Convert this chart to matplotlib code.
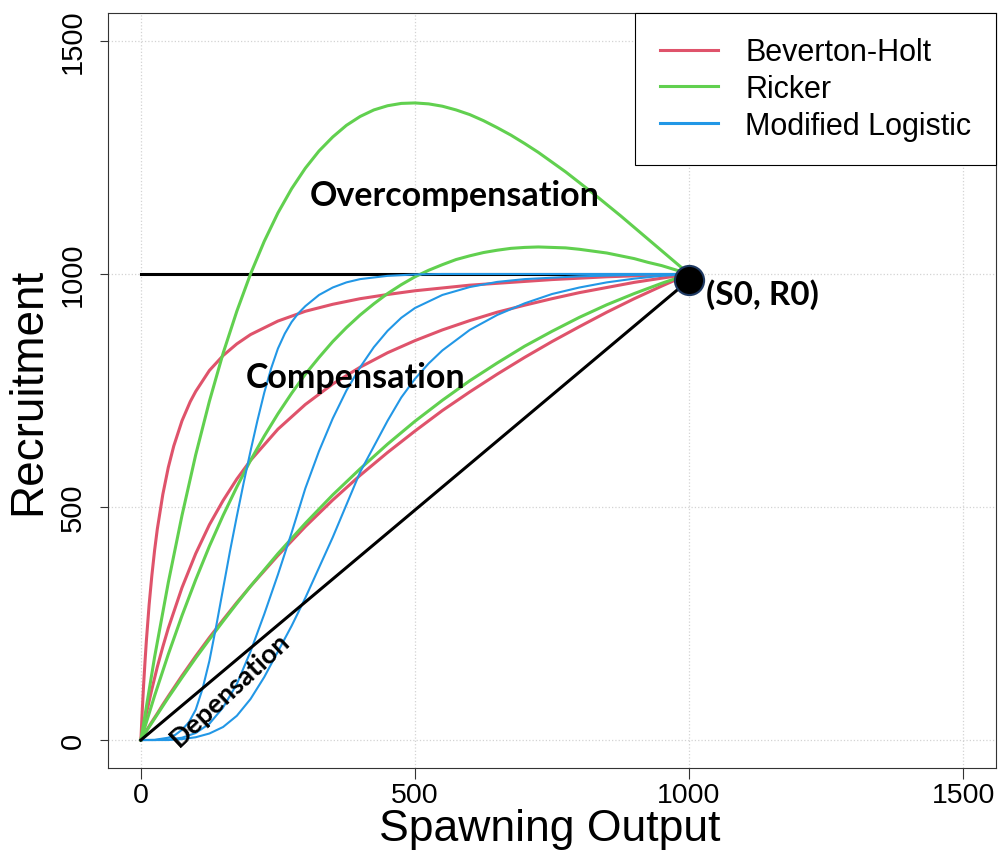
import matplotlib
matplotlib.use("Agg")
import matplotlib.pyplot as plt

plt.rcParams["font.family"] = ["Liberation Sans", "DejaVu Sans"]

# spawning output values the gentler curves were read at
spawning = [0, 5, 10, 20, 30, 40, 50, 75, 100, 125, 150, 175, 200, 250, 300,
            350, 400, 450, 500, 550, 600, 650, 700, 750, 800, 850, 900, 950, 1000]

# Beverton-Holt curves (high, mid, low steepness)
bh_high_s = [0, 2.5, 5, 7.5, 10, 15, 20, 25, 30, 40, 50, 60, 75, 90, 100, 125, 150, 175,
             200, 250, 300, 350, 400, 450, 500, 550, 600, 650, 700, 750, 800, 850, 900, 950, 1000]
bh_high = [0, 63, 119, 168, 213, 290, 353, 407, 453, 527, 585, 631, 685, 726, 748, 793, 825, 850,
           870, 899, 920, 935, 947, 956, 964, 970, 976, 980, 984, 988, 991, 994, 996, 998, 1000]
bh_mid = [0, 29, 57, 109, 157, 200, 240, 327, 400, 462, 514, 560, 600, 667, 720,
          764, 800, 831, 857, 880, 900, 918, 933, 947, 960, 971, 982, 991, 1000]
bh_low = [0, 10, 20, 39, 57, 76, 94, 138, 180, 220, 258, 295, 330, 396, 458,
          515, 568, 617, 663, 707, 747, 785, 821, 855, 887, 918, 947, 974, 1000]

# Ricker curves (high and mid read every 25 units)
ricker_s = list(range(0, 1001, 25))
ricker_high = [0, 178, 338, 482, 612, 727, 830, 920, 1000, 1070, 1131, 1183, 1227, 1264,
               1294, 1319, 1338, 1352, 1361, 1366, 1367, 1365, 1360, 1352, 1342, 1329, 1314,
               1298, 1280, 1261, 1240, 1219, 1196, 1173, 1149, 1125, 1100, 1075, 1050, 1025, 1000]
ricker_mid = [0, 95, 184, 267, 344, 416, 482, 543, 600, 652, 700, 744, 785, 821,
              855, 885, 912, 936, 958, 977, 994, 1008, 1020, 1031, 1039, 1046, 1051,
              1055, 1057, 1058, 1057, 1056, 1053, 1049, 1045, 1039, 1033, 1025, 1018, 1009, 1000]
ricker_low = [0, 9, 19, 37, 55, 73, 91, 134, 176, 216, 255, 293, 330, 400, 465,
              526, 582, 635, 684, 729, 771, 809, 845, 877, 907, 934, 958, 980, 1000]

# Modified logistic curves
logis1_s = [0, 25, 50, 62.5, 75, 87.5, 100, 112.5, 125, 137.5, 150, 162.5, 175, 187.5, 200, 212.5,
            225, 237.5, 250, 262.5, 275, 287.5, 300, 325, 350, 375, 400, 450, 500, 550, 1000]
logis1 = [0, 0.5, 5, 11, 22, 38, 65, 110, 170, 245, 325, 405, 480, 552, 620, 685,
          745, 797, 840, 872, 897, 916, 931, 955, 971, 982, 989, 996, 999, 1000, 1000]
logis2_s = [0, 25, 50, 75, 100, 125, 150, 175, 200, 225, 250, 275, 300, 325,
            350, 375, 400, 425, 450, 475, 500, 550, 600, 650, 700, 800, 900, 1000]
logis2 = [0, 0, 1, 5, 15, 35, 70, 120, 190, 270, 355, 445, 540, 620,
          690, 750, 800, 843, 878, 906, 927, 955, 972, 983, 989, 995, 998, 1000]
logis3_s = [0, 50, 75, 100, 125, 150, 175, 200, 225, 250, 275, 300, 325, 350, 375, 400,
            425, 450, 475, 500, 525, 550, 600, 650, 700, 750, 800, 850, 900, 950, 1000]
logis3 = [0, 0, 2, 6, 14, 28, 52, 88, 135, 190, 245, 305, 370, 435, 505, 575,
          630, 685, 735, 775, 808, 836, 880, 912, 937, 957, 971, 982, 990, 996, 1000]

S0, R0 = 1000, 1000
ticks = [0, 500, 1000, 1500]

red = "#DF536B"
green = "#61D04F"
blue = "#2297E6"

fig = plt.figure(figsize=(10.02, 8.53), dpi=100)
ax = fig.add_axes([108/1002, 1 - 769/853, 888/1002, 755/853])

ax.set_xlim(-60, 1560)
ax.set_ylim(-60, 1560)
ax.set_xticks(ticks)
ax.set_yticks(ticks)
ax.grid(True, color="#D3D3D3", linestyle=":", linewidth=0.9)
ax.set_axisbelow(True)

# R0 reference line
ax.plot([0, S0], [R0, R0], color="black", lw=2.2, zorder=2)

ax.plot(bh_high_s, bh_high, color=red, lw=2.2, zorder=3)
ax.plot(spawning, bh_mid, color=red, lw=2.2, zorder=3)
ax.plot(spawning, bh_low, color=red, lw=2.2, zorder=3)
ax.plot(ricker_s, ricker_high, color=green, lw=2.2, zorder=4)
ax.plot(ricker_s, ricker_mid, color=green, lw=2.2, zorder=4)
ax.plot(spawning, ricker_low, color=green, lw=2.2, zorder=4)
ax.plot(logis1_s, logis1, color=blue, lw=1.5, zorder=5)
ax.plot(logis2_s, logis2, color=blue, lw=1.5, zorder=5)
ax.plot(logis3_s, logis3, color=blue, lw=1.5, zorder=5)

# replacement line and the unfished point
ax.plot([0, S0], [0, 987], color="black", lw=2.2, zorder=6)
ax.plot([S0], [987], "o", ms=21, mfc="black", mec="#1F3A63", mew=1.5, zorder=7)

# legend
ax.plot([], [], color=red, lw=2.2, label="Beverton-Holt")
ax.plot([], [], color=green, lw=2.2, label="Ricker")
ax.plot([], [], color=blue, lw=2.2, label="Modified Logistic")
leg = ax.legend(loc="upper right", bbox_to_anchor=(1, 1), borderaxespad=0,
                fontsize=22, fancybox=False, framealpha=1, edgecolor="black",
                handlelength=1.9, handletextpad=0.9, labelspacing=0.22, borderpad=0.8)
leg.get_frame().set_linewidth(0.8)
leg.set_zorder(10)

# annotations
bold = dict(family=["Lato", "DejaVu Sans"], fontweight="bold", color="black", zorder=8)
ax.text(573, 1170, "Overcompensation", fontsize=24.5, ha="center", va="center", **bold)
ax.text(392, 779, "Compensation", fontsize=24.5, ha="center", va="center", **bold)
ax.text(1031, 957, "(S0, R0)", fontsize=24, ha="left", va="center", **bold)
ax.text(162, 110, "Depensation", fontsize=19.5, ha="center", va="center", rotation=43,
        rotation_mode="anchor", **bold)

# axes styling
for sp in ax.spines.values():
    sp.set_color("#333333")
    sp.set_linewidth(0.8)
ax.tick_params(axis="x", length=8, width=0.8, color="#333333", labelsize=20.5, pad=2)
ax.tick_params(axis="y", length=6, width=0.8, color="#333333", labelsize=21, pad=9)
plt.setp(ax.get_yticklabels(), rotation=90, va="center")

ax.set_xlabel("Spawning Output", fontsize=32)
ax.set_ylabel("Recruitment", fontsize=33)
ax.xaxis.set_label_coords(0.498, -0.08)
ax.xaxis.label.set_va("center")
ax.yaxis.set_label_coords(-0.09, 0.5)
ax.yaxis.label.set_va("center")

fig.savefig("out.png", dpi=100)
